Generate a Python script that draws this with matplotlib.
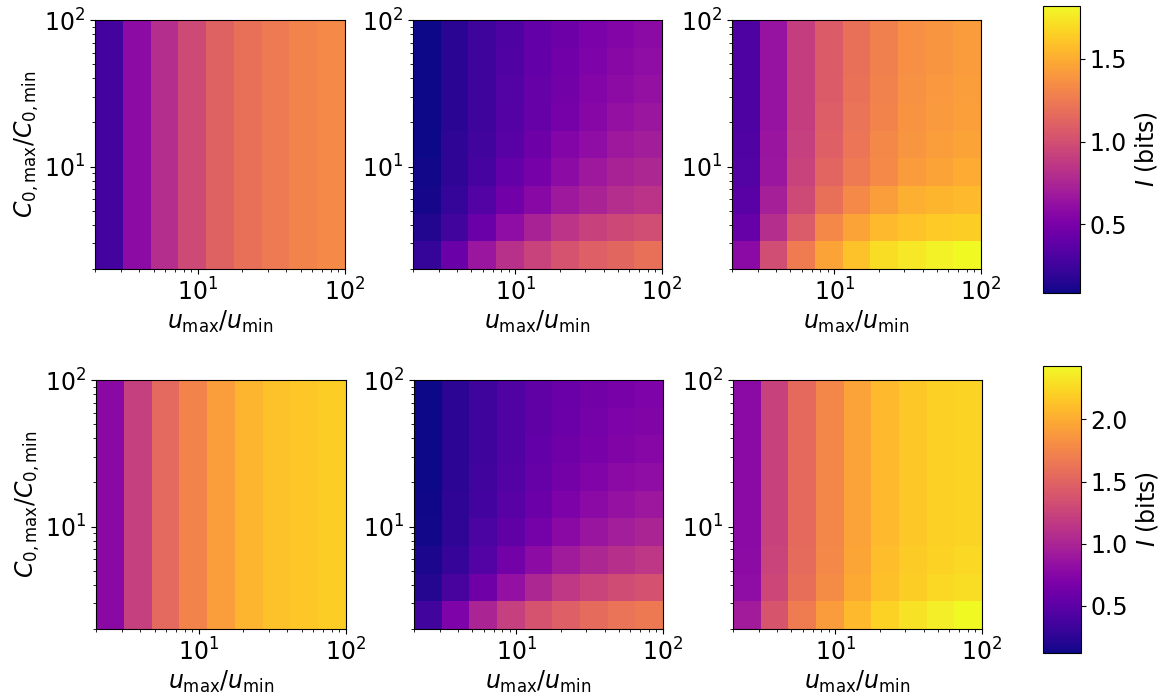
import numpy as np
import matplotlib
matplotlib.use("Agg")
import matplotlib.pyplot as plt
from matplotlib.colors import Normalize

# ---------------- data (I in bits); rows listed from bottom (y=2) to top (y=100)
u_edges = np.geomspace(2, 100, 10)
c_edges = np.geomspace(2, 100, 10)

top_left_cols = [0.27, 0.59, 0.80, 0.97, 1.11, 1.19, 1.25, 1.30, 1.33]

top_mid = [
    [0.21, 0.43, 0.66, 0.82, 0.93, 1.02, 1.10, 1.14, 1.19],
    [0.14, 0.26, 0.43, 0.60, 0.73, 0.84, 0.92, 0.96, 0.99],
    [0.11, 0.21, 0.33, 0.46, 0.57, 0.67, 0.74, 0.80, 0.83],
    [0.10, 0.19, 0.28, 0.40, 0.49, 0.59, 0.67, 0.73, 0.76],
    [0.09, 0.18, 0.26, 0.35, 0.45, 0.54, 0.60, 0.67, 0.70],
    [0.08, 0.17, 0.25, 0.34, 0.41, 0.49, 0.56, 0.62, 0.66],
    [0.08, 0.17, 0.24, 0.33, 0.41, 0.47, 0.54, 0.59, 0.62],
    [0.08, 0.17, 0.24, 0.32, 0.40, 0.46, 0.52, 0.57, 0.60],
    [0.08, 0.17, 0.24, 0.31, 0.40, 0.45, 0.50, 0.55, 0.58],
]

top_right = [
    [0.58, 0.99, 1.26, 1.46, 1.59, 1.70, 1.75, 1.79, 1.82],
    [0.41, 0.80, 1.07, 1.32, 1.46, 1.56, 1.60, 1.63, 1.64],
    [0.36, 0.71, 0.97, 1.19, 1.33, 1.43, 1.51, 1.54, 1.56],
    [0.33, 0.66, 0.93, 1.13, 1.25, 1.33, 1.42, 1.46, 1.49],
    [0.32, 0.65, 0.91, 1.10, 1.22, 1.32, 1.39, 1.43, 1.46],
    [0.31, 0.64, 0.90, 1.09, 1.21, 1.30, 1.38, 1.41, 1.44],
    [0.31, 0.64, 0.90, 1.08, 1.20, 1.29, 1.37, 1.40, 1.43],
    [0.31, 0.64, 0.90, 1.08, 1.19, 1.28, 1.36, 1.39, 1.42],
    [0.31, 0.64, 0.90, 1.08, 1.19, 1.28, 1.36, 1.39, 1.42],
]

bot_left_cols = [0.77, 1.22, 1.54, 1.74, 1.91, 2.05, 2.13, 2.16, 2.20]

bot_mid = [
    [0.35, 0.70, 1.00, 1.22, 1.37, 1.47, 1.56, 1.62, 1.66],
    [0.21, 0.39, 0.61, 0.84, 1.02, 1.15, 1.25, 1.32, 1.36],
    [0.17, 0.30, 0.45, 0.63, 0.79, 0.92, 1.02, 1.09, 1.14],
    [0.14, 0.26, 0.40, 0.52, 0.65, 0.77, 0.87, 0.95, 1.00],
    [0.13, 0.25, 0.36, 0.48, 0.59, 0.69, 0.78, 0.85, 0.89],
    [0.12, 0.24, 0.35, 0.45, 0.56, 0.64, 0.71, 0.78, 0.81],
    [0.12, 0.24, 0.34, 0.44, 0.54, 0.61, 0.67, 0.72, 0.76],
    [0.12, 0.24, 0.34, 0.43, 0.52, 0.59, 0.65, 0.70, 0.72],
    [0.12, 0.24, 0.34, 0.43, 0.52, 0.58, 0.63, 0.67, 0.70],
]

bot_right = [
    [0.93, 1.39, 1.69, 1.90, 2.08, 2.22, 2.31, 2.37, 2.43],
    [0.81, 1.28, 1.59, 1.79, 1.98, 2.12, 2.20, 2.25, 2.27],
    [0.79, 1.25, 1.56, 1.77, 1.96, 2.10, 2.18, 2.22, 2.25],
    [0.78, 1.23, 1.55, 1.76, 1.94, 2.08, 2.16, 2.21, 2.23],
    [0.78, 1.23, 1.55, 1.76, 1.94, 2.08, 2.16, 2.21, 2.23],
    [0.78, 1.23, 1.55, 1.76, 1.94, 2.08, 2.16, 2.21, 2.23],
    [0.78, 1.23, 1.55, 1.76, 1.94, 2.08, 2.16, 2.21, 2.23],
    [0.78, 1.23, 1.55, 1.76, 1.94, 2.08, 2.16, 2.21, 2.23],
    [0.78, 1.23, 1.55, 1.76, 1.94, 2.08, 2.16, 2.21, 2.23],
]

top_range = (0.084, 1.82)
bot_range = (0.12, 2.43)

xlabel = r"$u_\mathrm{max}/u_\mathrm{min}$"
ylabel = r"$C_{0,\mathrm{max}}/C_{0,\mathrm{min}}$"
cbar_label = r"$I$ (bits)"

# ---------------- figure
W, H = 1162, 696
fig = plt.figure(figsize=(W / 100, H / 100), dpi=100)
FS = 17
plt.rcParams['font.size'] = FS


def add_px(x0, y0, x1, y1):
    return fig.add_axes([x0 / W, 1 - y1 / H, (x1 - x0) / W, (y1 - y0) / H])


top_boxes = [(95, 20, 345, 269), (413, 20, 662, 269), (732, 20, 981, 269)]
bot_boxes = [(96, 380, 346, 629), (414, 380, 663, 629), (733, 380, 982, 629)]

top_data = [np.tile(np.array(top_left_cols), (9, 1)), np.array(top_mid), np.array(top_right)]
bot_data = [np.tile(np.array(bot_left_cols), (9, 1)), np.array(bot_mid), np.array(bot_right)]

for boxes, datas, rng, cbox, cticks in [
    (top_boxes, top_data, top_range, (1043, 6, 1080, 293), [0.5, 1.0, 1.5]),
    (bot_boxes, bot_data, bot_range, (1043, 366, 1081, 653), [0.5, 1.0, 1.5, 2.0]),
]:
    norm = Normalize(vmin=rng[0], vmax=rng[1])
    mesh = None
    for i, (box, d) in enumerate(zip(boxes, datas)):
        ax = add_px(*box)
        mesh = ax.pcolormesh(u_edges, c_edges, d, cmap='plasma', norm=norm, shading='flat')
        ax.set_xscale('log')
        ax.set_yscale('log')
        ax.set_xlim(2, 100)
        ax.set_ylim(2, 100)
        ax.tick_params(labelsize=FS)
        ax.set_xlabel(xlabel, fontsize=FS, labelpad=2)
        if i == 0:
            ax.set_ylabel(ylabel, fontsize=FS, labelpad=2)
    cax = add_px(*cbox)
    cb = fig.colorbar(mesh, cax=cax)
    cb.set_ticks(cticks)
    cb.ax.tick_params(labelsize=FS)
    cb.set_label(cbar_label, fontsize=FS)

fig.savefig("out.png", dpi=100)
